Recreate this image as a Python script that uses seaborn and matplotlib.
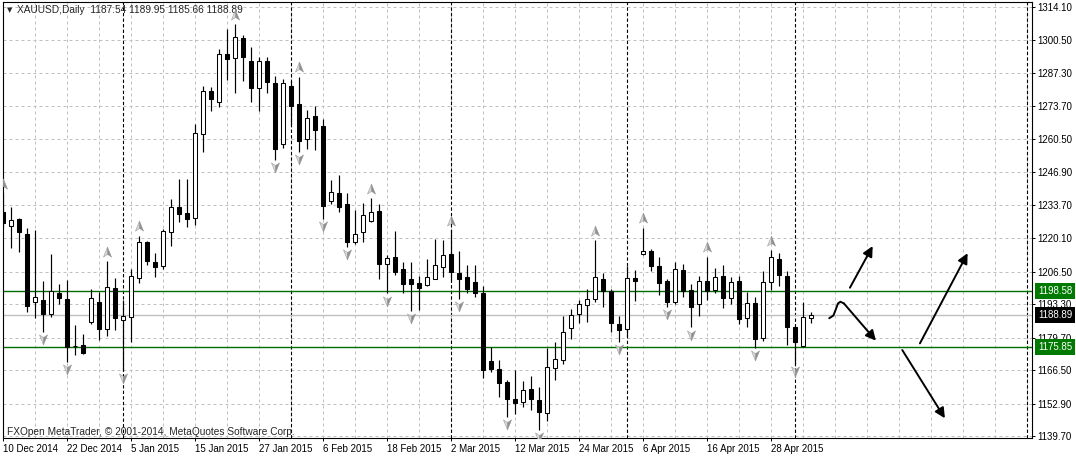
import numpy as np
import pandas as pd
import seaborn as sns
import matplotlib.pyplot as plt
from matplotlib.path import Path
from matplotlib.transforms import blended_transform_factory

sns.set_style('white')
plt.rcParams['font.family'] = ['Liberation Sans', 'DejaVu Sans']

# -----------------------------
# Data (XAUUSD daily, 10 Dec 2014 - 5 May 2015)
# -----------------------------

opens = [1230.9, 1225.2, 1227.9, 1221.8, 1194.3, 1195.0, 1189.2, 1198.0, 1195.4, 1176.4,
         1176.7, 1186.2, 1194.3, 1183.1, 1199.8, 1186.9, 1188.2, 1203.8, 1218.4, 1210.6,
         1208.8, 1222.7, 1232.6, 1230.3, 1228.2, 1262.3, 1280.0, 1275.5, 1294.8, 1293.1,
         1301.3, 1292.0, 1281.0, 1292.0, 1283.1, 1258.2, 1281.9, 1274.6, 1260.4, 1269.7,
         1265.7, 1235.3, 1238.3, 1234.0, 1218.4, 1222.5, 1227.2, 1231.1, 1209.6, 1212.3,
         1207.5, 1203.4, 1201.8, 1201.0, 1203.7, 1208.3, 1213.7, 1205.9, 1204.2, 1202.4,
         1198.0, 1170.2, 1167.0, 1161.7, 1154.8, 1153.5, 1158.9, 1154.4, 1149.0, 1167.3,
         1170.7, 1183.5, 1189.2, 1193.0, 1195.6, 1203.5, 1198.7, 1185.2, 1183.1, 1203.9,
         1213.6, 1214.9, 1208.8, 1202.8, 1194.3, 1207.2, 1199.1, 1193.3, 1202.7, 1199.1,
         1204.8, 1195.7, 1202.7, 1187.6, 1193.7, 1179.5, 1202.4, 1211.5, 1204.8, 1184.2,
         1176.5, 1187.54]
highs = [1238.3, 1232.8, 1228.4, 1224.1, 1223.4, 1202.7, 1213.8, 1201.4, 1203.1, 1184.9,
         1181.2, 1199.5, 1198.1, 1210.8, 1203.8, 1195.0, 1207.6, 1221.1, 1219.0, 1214.1,
         1223.7, 1236.0, 1244.1, 1244.1, 1266.5, 1281.9, 1281.4, 1296.9, 1305.0, 1307.1,
         1302.6, 1297.6, 1293.8, 1293.8, 1285.8, 1284.6, 1284.1, 1285.7, 1272.2, 1273.8,
         1268.4, 1243.7, 1245.8, 1238.3, 1231.6, 1234.3, 1236.3, 1233.9, 1213.3, 1223.0,
         1210.3, 1210.6, 1204.8, 1211.5, 1219.8, 1219.4, 1223.4, 1214.9, 1209.2, 1209.2,
         1200.7, 1175.8, 1170.7, 1162.5, 1166.6, 1162.1, 1164.2, 1159.6, 1175.6, 1178.1,
         1188.5, 1191.3, 1195.0, 1199.3, 1219.4, 1205.9, 1199.4, 1188.5, 1208.7, 1207.2,
         1224.3, 1215.8, 1212.5, 1203.5, 1210.6, 1209.6, 1201.4, 1204.8, 1212.6, 1207.9,
         1209.2, 1204.2, 1204.9, 1198.1, 1196.1, 1206.9, 1215.3, 1214.0, 1206.9, 1184.5,
         1194.0, 1189.95]
lows = [1224.2, 1216.0, 1214.4, 1190.3, 1187.6, 1181.9, 1188.2, 1193.4, 1170.0, 1172.7,
        1173.0, 1185.3, 1178.8, 1180.5, 1182.8, 1166.2, 1178.1, 1201.8, 1209.2, 1204.5,
        1207.5, 1217.1, 1226.8, 1224.7, 1225.5, 1255.0, 1271.9, 1273.5, 1284.3, 1279.2,
        1284.1, 1275.5, 1271.9, 1279.1, 1251.9, 1256.6, 1266.1, 1255.2, 1256.3, 1255.9,
        1227.9, 1234.0, 1230.9, 1216.4, 1217.7, 1218.6, 1226.7, 1203.4, 1197.7, 1205.2,
        1198.0, 1190.7, 1191.0, 1200.7, 1203.4, 1204.2, 1203.1, 1195.3, 1198.0, 1196.4,
        1163.5, 1165.9, 1155.5, 1147.4, 1148.6, 1151.4, 1150.4, 1142.2, 1146.0, 1162.5,
        1168.9, 1179.2, 1185.7, 1186.2, 1194.3, 1192.3, 1182.1, 1178.1, 1180.3, 1194.6,
        1213.3, 1206.9, 1197.2, 1192.2, 1193.2, 1196.4, 1183.9, 1188.6, 1195.0, 1197.7,
        1191.6, 1193.3, 1185.3, 1184.2, 1175.4, 1178.5, 1199.1, 1200.7, 1176.7, 1169.0,
        1176.1, 1185.66]
closes = [1226.2, 1227.4, 1222.5, 1192.7, 1196.4, 1189.2, 1198.7, 1195.7, 1176.1, 1176.2,
          1173.6, 1195.7, 1183.1, 1200.2, 1187.8, 1188.5, 1204.8, 1218.4, 1210.8, 1208.5,
          1223.0, 1232.9, 1229.9, 1227.9, 1262.7, 1280.0, 1276.5, 1294.8, 1292.7, 1301.7,
          1293.8, 1281.0, 1292.0, 1283.6, 1256.5, 1283.1, 1273.9, 1259.7, 1268.8, 1264.0,
          1233.3, 1238.7, 1232.9, 1218.7, 1221.8, 1229.5, 1230.6, 1209.5, 1211.9, 1206.5,
          1201.4, 1201.4, 1200.0, 1204.5, 1209.1, 1213.2, 1206.5, 1203.4, 1199.6, 1198.0,
          1166.6, 1166.9, 1161.4, 1154.8, 1153.3, 1158.5, 1154.7, 1149.4, 1167.8, 1170.9,
          1182.1, 1189.1, 1193.3, 1195.3, 1204.5, 1198.7, 1185.8, 1183.0, 1203.8, 1202.6,
          1214.9, 1208.9, 1202.0, 1194.3, 1207.5, 1198.7, 1192.3, 1202.7, 1198.7, 1204.5,
          1195.9, 1202.2, 1187.2, 1193.7, 1179.1, 1202.2, 1212.3, 1205.2, 1184.2, 1178.1,
          1188.0, 1188.89]

# bars carrying a fractal arrow
up_fractals = [0, 13, 17, 29, 37, 46, 56, 74, 80, 88, 96]
down_fractals = [5, 8, 15, 34, 37, 40, 43, 48, 51, 57, 63, 67, 77, 83, 86, 94, 99]

date_bars = [0, 8, 16, 24, 32, 40, 48, 56, 64, 72, 80, 88, 96]
date_labels = ['10 Dec 2014', '22 Dec 2014', '5 Jan 2015', '15 Jan 2015', '27 Jan 2015',
               '6 Feb 2015', '18 Feb 2015', '2 Mar 2015', '12 Mar 2015', '24 Mar 2015',
               '6 Apr 2015', '16 Apr 2015', '28 Apr 2015']
period_separators = [15, 36, 56, 78, 99, 128]

price_ticks = [1314.10, 1300.50, 1287.30, 1273.70, 1260.50, 1246.90, 1233.70,
               1220.10, 1206.50, 1193.30, 1179.70, 1166.50, 1152.90, 1139.70]

resistance = 1198.58
support = 1175.85
bid = 1188.89

# hand drawn forecast arrows: (bar, price) start -> end
forecast_arrows = [((105.84, 1200.0), (108.68, 1216.9)),
                   ((114.59, 1177.4), (120.55, 1214.0)),
                   ((112.38, 1174.7), (117.71, 1147.0)),
                   ((105.09, 1193.6), (109.09, 1178.5))]
hook_bars = [103.25, 103.77, 104.09, 104.34, 104.65, 105.09]
hook_prices = [1187.6, 1188.7, 1191.35, 1193.6, 1194.3, 1193.6]

title = 'XAUUSD,Daily  1187.54 1189.95 1185.66 1188.89'
credit = 'FXOpen MetaTrader, \u00a9 2001-2014, MetaQuotes Software Corp.'

# -----------------------------
# Build frame
# -----------------------------

df = pd.DataFrame({'open': opens, 'high': highs, 'low': lows, 'close': closes})
df['bar'] = np.arange(len(df))
df['bull'] = df['close'] >= df['open']
df['body_low'] = df[['open', 'close']].min(axis=1)
df['body_h'] = (df['close'] - df['open']).abs().clip(lower=0.15)

W, H = 1076, 457
fig = plt.figure(figsize=(W / 100, H / 100), dpi=100)
ax = fig.add_axes([3 / W, 19 / H, 1029 / W, 436 / H])

ax.set_xlim(-0.04, 128.6)
ax.set_ylim(1138.98, 1316.0)

# grid
for p in price_ticks:
    ax.axhline(p, color='#c0c0c0', lw=0.72, ls=(0, (3, 3)), zorder=0)
for b in range(0, 129, 4):
    ax.axvline(b, color='#c0c0c0', lw=0.72, ls=(0, (3, 3)), zorder=0)
for b in period_separators:
    ax.axvline(b, color='black', lw=0.8, ls=(0, (3, 2)), zorder=1)

# levels
ax.axhline(resistance, color='#006f00', lw=1.0, zorder=1)
ax.axhline(support, color='#006f00', lw=1.0, zorder=1)
ax.axhline(bid, color='#c0c0c0', lw=1.0, zorder=1)

# candles
ax.vlines(df['bar'], df['low'], df['high'], color='black', lw=0.85, zorder=2)
ax.bar(df['bar'], df['body_h'], bottom=df['body_low'], width=0.5,
       color=np.where(df['bull'], 'white', 'black'), edgecolor='black',
       linewidth=0.75, zorder=3)

# fractals
left_up = Path([(0, 1), (-0.75, -0.85), (0, -0.35), (0, 1)],
               [Path.MOVETO, Path.LINETO, Path.LINETO, Path.CLOSEPOLY])
right_up = Path([(0, 1), (0.75, -0.85), (0, -0.35), (0, 1)],
                [Path.MOVETO, Path.LINETO, Path.LINETO, Path.CLOSEPOLY])
left_dn = Path([(x, -y) for x, y in left_up.vertices], left_up.codes)
right_dn = Path([(x, -y) for x, y in right_up.vertices], right_up.codes)

fu = df.loc[up_fractals]
fd = df.loc[down_fractals]
for mk, col in [(left_up, '#dcdcdc'), (right_up, '#8e8e8e')]:
    sns.scatterplot(x=fu['bar'], y=fu['high'] + 3.8, marker=mk, s=60, color=col,
                    edgecolor='#9a9a9a', linewidth=0.4, ax=ax, zorder=4, legend=False)
for mk, col in [(left_dn, '#dcdcdc'), (right_dn, '#8e8e8e')]:
    sns.scatterplot(x=fd['bar'], y=fd['low'] - 2.9, marker=mk, s=60, color=col,
                    edgecolor='#9a9a9a', linewidth=0.4, ax=ax, zorder=4, legend=False)

# forecast drawing
sns.lineplot(x=hook_bars, y=hook_prices, color='black', lw=1.4, ax=ax,
             sort=False, estimator=None, zorder=5)
for (x0, y0), (x1, y1) in forecast_arrows:
    ax.annotate('', xy=(x1, y1), xytext=(x0, y0),
                arrowprops=dict(arrowstyle='-|>,head_length=0.6,head_width=0.3',
                                color='black', lw=1.4, mutation_scale=10,
                                shrinkA=0, shrinkB=0), zorder=5)

# axes styling
for s in ax.spines.values():
    s.set_color('black')
    s.set_linewidth(0.8)
ax.yaxis.tick_right()
ax.set_yticks(price_ticks)
ax.set_yticklabels([f'{p:.2f}' for p in price_ticks])
ax.set_xticks(date_bars)
ax.set_xticklabels(date_labels)
for lbl in ax.get_xticklabels():
    lbl.set_ha('left')
ax.tick_params(axis='y', which='both', right=True, left=False, length=2.5,
               width=0.7, pad=1.5, labelsize=7, colors='black')
ax.tick_params(axis='x', which='both', bottom=True, length=2.5, width=0.7,
               pad=1.5, labelsize=7, colors='black')
ax.set_xlabel('')
ax.set_ylabel('')

# price tags
tr = blended_transform_factory(ax.transAxes, ax.transData)
for p, fc in [(resistance, '#007a00'), (bid, 'black'), (support, '#007a00')]:
    ax.text(1 + 6 / 1029, p, f'{p:.2f}', transform=tr, ha='left', va='center',
            fontsize=7, color='white', zorder=6, clip_on=False,
            bbox=dict(boxstyle='square,pad=0.3', fc=fc, ec='none'))

# chart captions
ax.text(4 / 1029, 1 - 8 / 436, '\u25bc', transform=ax.transAxes, ha='left',
        va='center', fontsize=5, family=['DejaVu Sans'])
ax.text(14 / 1029, 1 - 8 / 436, title, transform=ax.transAxes, ha='left',
        va='center', fontsize=7.3)
ax.text(4 / 1029, 6 / 436, credit, transform=ax.transAxes, ha='left',
        va='center', fontsize=7.3)

fig.savefig('out.png', dpi=100)
